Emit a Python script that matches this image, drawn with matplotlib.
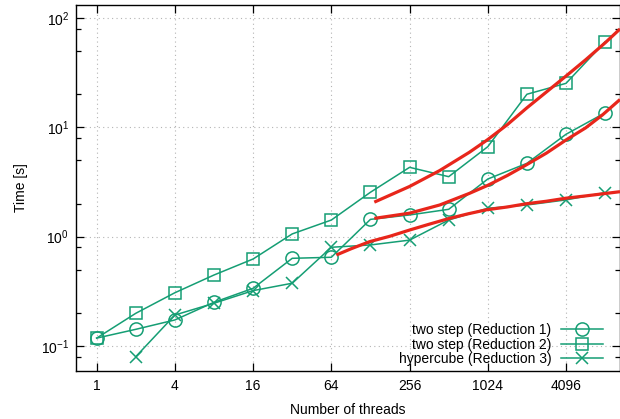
import matplotlib
matplotlib.use("Agg")
import matplotlib.pyplot as plt
from matplotlib.ticker import LogLocator, NullLocator, NullFormatter

plt.rcParams['font.family'] = ['Liberation Sans', 'DejaVu Sans']
plt.rcParams['mathtext.default'] = 'regular'

# measured run times (s)
threads = [1, 2, 4, 8, 16, 32, 64, 128, 256, 512, 1024, 2048, 4096, 8192]
time_red1 = [0.118, 0.142, 0.173, 0.251, 0.337, 0.634, 0.648, 1.44, 1.58, 1.78, 3.37, 4.69, 8.65, 13.6]
time_red2 = [0.118, 0.199, 0.307, 0.446, 0.625, 1.06, 1.42, 2.55, 4.31, 3.54, 6.66, 20.1, 25.3, 60.8]
threads_red3 = [2, 4, 8, 16, 32, 64, 128, 256, 512, 1024, 2048, 4096, 8192]
time_red3 = [0.0798, 0.192, 0.246, 0.321, 0.375, 0.80, 0.84, 0.93, 1.42, 1.82, 1.95, 2.17, 2.53]

# fitted curves (red)
fit1_x = [137, 256, 437, 739, 1024, 1448, 2020, 2896, 4096, 5793, 7810, 10660]
fit1_y = [1.47, 1.64, 1.95, 2.49, 2.95, 3.63, 4.53, 5.82, 7.67, 9.89, 13.0, 18.0]
fit2_x = [137, 256, 437, 739, 1024, 1448, 2048, 2896, 4096, 5793, 8192, 10660]
fit2_y = [2.07, 2.88, 4.03, 5.92, 7.74, 10.6, 15.1, 21.1, 29.5, 41.5, 59.4, 79.5]
fit3_x = [70, 91, 126, 181, 256, 362, 519, 724, 995, 1448, 2020, 2896, 4096, 5793, 10660]
fit3_y = [0.68, 0.776, 0.90, 1.01, 1.15, 1.30, 1.47, 1.62, 1.76, 1.87, 2.0, 2.11, 2.25, 2.36, 2.58]

xticks = [1, 4, 16, 64, 256, 1024, 4096]

green = '#159e74'
red = '#e8261b'

fig = plt.figure(figsize=(6.2, 4.19), dpi=100)
ax = fig.add_axes([0.1226, 0.1153, 0.8774, 0.8721])

ax.plot(threads, time_red1, color=green, lw=1.1, marker='o', ms=9.5,
        mfc='none', mew=1.1, label='two step (Reduction 1)', zorder=3)
ax.plot(threads, time_red2, color=green, lw=1.1, marker='s', ms=8.5,
        mfc='none', mew=1.1, label='two step (Reduction 2)', zorder=3)
ax.plot(threads_red3, time_red3, color=green, lw=1.1, marker='x', ms=9,
        mew=1.1, label='hypercube (Reduction 3)', zorder=3)

for fx, fy in [(fit1_x, fit1_y), (fit2_x, fit2_y), (fit3_x, fit3_y)]:
    ax.plot(fx, fy, color=red, lw=2.3, zorder=4, solid_capstyle='butt',
            solid_joinstyle='round')

ax.set_xscale('log', base=2)
ax.set_yscale('log')
ax.set_xlim(2 ** -0.528, 2 ** 13.38)
ax.set_ylim(0.0594, 131)

ax.set_xticks(xticks)
ax.set_xticklabels([str(t) for t in xticks])
ax.xaxis.set_minor_locator(NullLocator())
ax.yaxis.set_major_locator(LogLocator(base=10, numticks=10))
ax.yaxis.set_minor_locator(LogLocator(base=10, subs=(2, 5, 8), numticks=10))
ax.yaxis.set_minor_formatter(NullFormatter())

ax.tick_params(which='both', direction='in', top=True, right=True, labelsize=10)
ax.tick_params(which='major', length=6, width=0.9)
ax.tick_params(which='minor', length=3.5, width=0.9)
ax.tick_params(axis='x', pad=6)
ax.tick_params(axis='y', pad=5)

ax.grid(True, which='major', linestyle=(0, (1, 3)), color='#b4b4b4', lw=0.8)
for s in ax.spines.values():
    s.set_linewidth(1.0)

ax.set_xlabel('Number of threads', fontsize=10, labelpad=7)
ax.set_ylabel('Time [s]', fontsize=10, labelpad=9)

ax.legend(loc='lower right', bbox_to_anchor=(0.969, 0.012), frameon=False,
          markerfirst=False, handlelength=3.0, handletextpad=0.72,
          labelspacing=0.05, borderpad=0, borderaxespad=0, fontsize=10)

fig.savefig('out.png', dpi=100)
